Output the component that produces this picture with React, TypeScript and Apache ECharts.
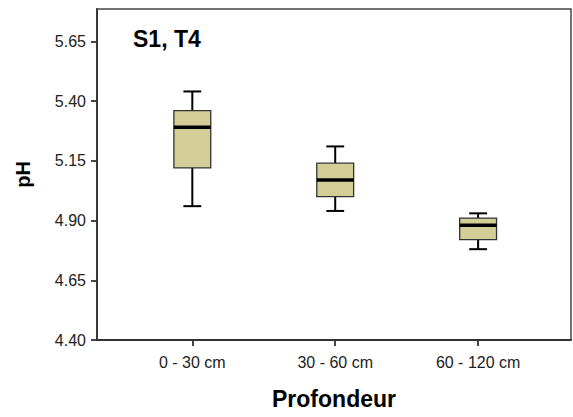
import React, { useEffect, useRef } from "react";
import * as echarts from "echarts";

const categories = ["0 - 30 cm", "30 - 60 cm", "60 - 120 cm"];
const whiskerLow = [4.96, 4.94, 4.78];
const q1 = [5.12, 5.0, 4.82];
const medians = [5.29, 5.07, 4.88];
const q3 = [5.36, 5.14, 4.91];
const whiskerHigh = [5.44, 5.21, 4.93];
const yTicks = [4.4, 4.65, 4.9, 5.15, 5.4, 5.65];
const xPositions = [1, 2, 3];

const FONT = "'Liberation Sans', Arial, sans-serif";

export default function App() {
  const ref = useRef<HTMLDivElement>(null);
  useEffect(() => {
    if (!ref.current) return;
    const chart = echarts.init(ref.current, undefined, { renderer: "svg" });
    const data = categories.map((_, i) => [
      xPositions[i],
      whiskerLow[i],
      q1[i],
      medians[i],
      q3[i],
      whiskerHigh[i],
    ]);
    const boxW = 0.258;
    const capW = 0.125;
    chart.setOption({
      animation: false,
      backgroundColor: "#fff",
      title: {
        text: "S1, T4",
        left: 133,
        top: 27,
        padding: 0,
        textStyle: { fontFamily: FONT, fontSize: 23, fontWeight: "bold", color: "#000" },
      },
      grid: {
        left: 97,
        right: 2,
        top: 9,
        bottom: 77,
        show: true,
        borderColor: "#444",
        borderWidth: 1.5,
        backgroundColor: "#fff",
      },
      xAxis: {
        type: "value",
        min: 0.333,
        max: 3.65,
        name: "Profondeur",
        nameLocation: "middle",
        nameGap: 47,
        nameTextStyle: { fontFamily: FONT, fontSize: 23, fontWeight: "bold", color: "#000" },
        axisLine: { show: true, lineStyle: { color: "#333", width: 1.8 } },
        axisTick: { show: true, length: 6, customValues: xPositions, lineStyle: { color: "#333", width: 1.8 } },
        axisLabel: {
          customValues: xPositions,
          margin: 14,
          fontFamily: FONT,
          fontSize: 16,
          color: "#222",
          formatter: (v: number) => categories[Math.round(v) - 1] ?? "",
        },
        splitLine: { show: false },
      },
      yAxis: {
        type: "value",
        min: 4.4,
        max: 5.785,
        name: "pH",
        nameLocation: "middle",
        nameGap: 64,
        nameRotate: 90,
        nameTextStyle: { fontFamily: FONT, fontSize: 20, fontWeight: "bold", color: "#000" },
        axisLine: { show: true, lineStyle: { color: "#333", width: 1.8 } },
        axisTick: { show: true, length: 6, customValues: yTicks, lineStyle: { color: "#333", width: 1.8 } },
        axisLabel: {
          customValues: yTicks,
          margin: 11,
          fontFamily: FONT,
          fontSize: 16,
          color: "#222",
          formatter: (v: number) => v.toFixed(2),
        },
        splitLine: { show: false },
      },
      series: [
        {
          type: "custom",
          data,
          encode: { x: 0, y: [1, 2, 3, 4, 5] },
          renderItem: (_params: any, api: any) => {
            const x = api.value(0);
            const lo = api.coord([x, api.value(1)]);
            const b1 = api.coord([x, api.value(2)]);
            const md = api.coord([x, api.value(3)]);
            const b3 = api.coord([x, api.value(4)]);
            const hi = api.coord([x, api.value(5)]);
            const bw = api.size([boxW, 0])[0];
            const cw = api.size([capW, 0])[0];
            const cx = lo[0];
            const whisk = { stroke: "#000", lineWidth: 2 };
            return {
              type: "group",
              children: [
                { type: "line", shape: { x1: cx, y1: hi[1], x2: cx, y2: b3[1] }, style: whisk },
                { type: "line", shape: { x1: cx, y1: lo[1], x2: cx, y2: b1[1] }, style: whisk },
                { type: "line", shape: { x1: cx - cw / 2, y1: hi[1], x2: cx + cw / 2, y2: hi[1] }, style: whisk },
                { type: "line", shape: { x1: cx - cw / 2, y1: lo[1], x2: cx + cw / 2, y2: lo[1] }, style: whisk },
                {
                  type: "rect",
                  shape: { x: cx - bw / 2, y: b3[1], width: bw, height: b1[1] - b3[1] },
                  style: { fill: "#d3ce98", stroke: "#333", lineWidth: 1.3 },
                },
                {
                  type: "line",
                  shape: { x1: cx - bw / 2, y1: md[1], x2: cx + bw / 2, y2: md[1] },
                  style: { stroke: "#000", lineWidth: 3.5 },
                },
              ],
            };
          },
        },
      ],
    });
    return () => chart.dispose();
  }, []);
  return (
    <div
      ref={ref}
      style={{ position: "absolute", left: 0, top: 0, width: 573, height: 417 }}
    />
  );
}
